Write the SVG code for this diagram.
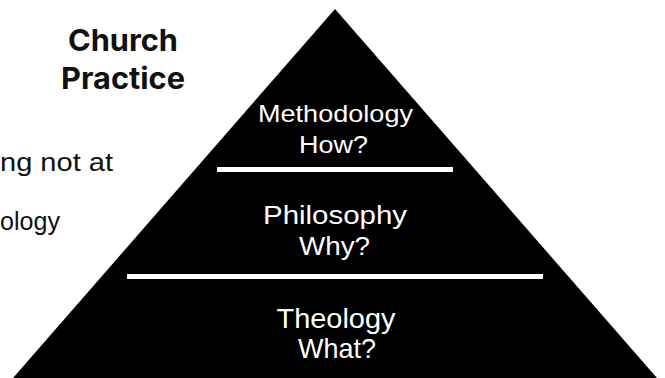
<svg xmlns="http://www.w3.org/2000/svg" width="665" height="378" viewBox="0 0 665 378">
  <style>
    .tri { font-family: "Liberation Sans", Arial, Helvetica, sans-serif; fill: #ffffff; text-anchor: middle; }
    .side { font-family: "Liberation Sans", Arial, Helvetica, sans-serif; fill: #111111; font-size: 26px; }
    .title { font-family: Inter, "Open Sans", "Liberation Sans", sans-serif; font-weight: 700; fill: #111111; font-size: 30px; text-anchor: middle; }
    .divider { fill: #ffffff; }
  </style>
  <rect width="665" height="378" fill="#ffffff"/>
  <g id="left-text">
    <text class="side" x="0" y="171" textLength="113" lengthAdjust="spacingAndGlyphs">ng not at</text>
    <text class="side" x="0" y="230" textLength="60" lengthAdjust="spacingAndGlyphs">ology</text>
  </g>
  <g id="title">
    <text class="title" x="123" y="51" textLength="110" lengthAdjust="spacingAndGlyphs">Church</text>
    <text class="title" x="123" y="88.5" textLength="124" lengthAdjust="spacingAndGlyphs">Practice</text>
  </g>
  <g id="pyramid">
    <polygon points="335,9 657,378 13,378" fill="#000000"/>
    <rect class="divider" x="217" y="167" width="236" height="5"/>
    <rect class="divider" x="127" y="274" width="416" height="5"/>
  </g>
  <g id="methodology">
    <text class="tri" x="335.5" y="122" font-size="24.5" textLength="155" lengthAdjust="spacingAndGlyphs">Methodology</text>
    <text class="tri" x="333.5" y="152.5" font-size="24.5" textLength="69" lengthAdjust="spacingAndGlyphs">How?</text>
  </g>
  <g id="philosophy">
    <text class="tri" x="335" y="223.5" font-size="26" textLength="144" lengthAdjust="spacingAndGlyphs">Philosophy</text>
    <text class="tri" x="334.5" y="255" font-size="26" textLength="71" lengthAdjust="spacingAndGlyphs">Why?</text>
  </g>
  <g id="theology">
    <text class="tri" x="336" y="327.5" font-size="28" textLength="119" lengthAdjust="spacingAndGlyphs">Theology</text>
    <text class="tri" x="337" y="358" font-size="28" textLength="78" lengthAdjust="spacingAndGlyphs">What?</text>
  </g>
</svg>
